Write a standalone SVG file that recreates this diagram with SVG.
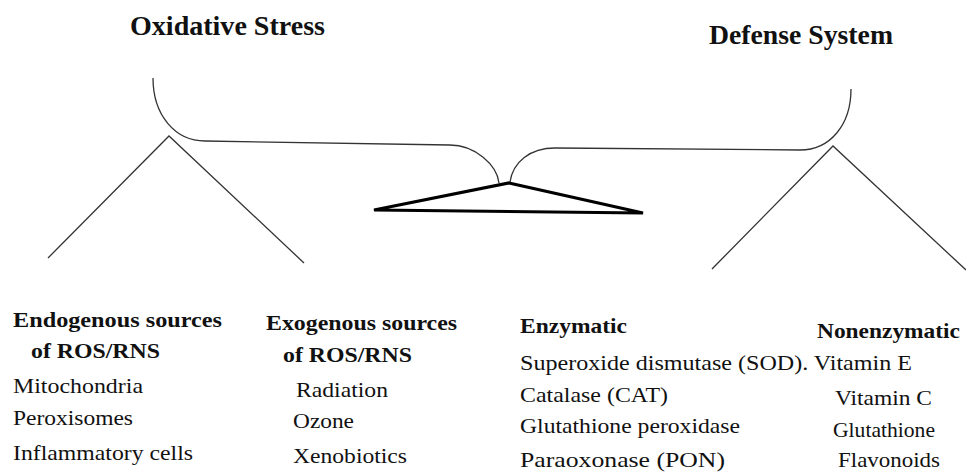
<svg xmlns="http://www.w3.org/2000/svg" width="966" height="472" viewBox="0 0 966 472">
<style>
text{fill:#111}
.title{font-size:28px;font-weight:bold}
.head{font-size:21px;font-weight:bold}
.item{font-size:22px}
.thin{fill:none;stroke:#333;stroke-width:1.3}
.fulcrum{fill:none;stroke:#000;stroke-width:3.2;stroke-linejoin:miter}
</style>
<rect width="966" height="472" fill="#fff"/>
<g font-family="Liberation Serif, DejaVu Serif, serif">
<g id="title-oxidative"><text class="title" x="130" y="35" textLength="195" lengthAdjust="spacingAndGlyphs">Oxidative Stress</text></g>
<g id="title-defense"><text class="title" x="709" y="44" textLength="184" lengthAdjust="spacingAndGlyphs">Defense System</text></g>
<g id="connectors">
<path class="thin" d="M153,78 C153,115 175,141 205,141 L450,145 C475,145 497,165 499,183"/>
<path class="thin" d="M510,182 C513,162 530,148 555,148 L800,150 C830,150 851,125 851,89"/>
<path class="thin" d="M48,258 L169,136 L304,263"/>
<path class="thin" d="M712,269 L833,146 L966,270"/>
</g>
<g id="fulcrum"><path class="fulcrum" d="M509,183 L643,213 L374,210 Z"/></g>
<g id="endogenous">
<text class="head" x="13" y="327" textLength="209" lengthAdjust="spacingAndGlyphs">Endogenous sources</text>
<text class="head" x="31" y="358" textLength="129" lengthAdjust="spacingAndGlyphs">of ROS/RNS</text>
<text class="item" x="13" y="393" textLength="130" lengthAdjust="spacingAndGlyphs">Mitochondria</text>
<text class="item" x="13" y="425" textLength="120" lengthAdjust="spacingAndGlyphs">Peroxisomes</text>
<text class="item" x="13" y="460" textLength="180" lengthAdjust="spacingAndGlyphs">Inflammatory cells</text>
</g>
<g id="exogenous">
<text class="head" x="266" y="330" textLength="191" lengthAdjust="spacingAndGlyphs">Exogenous sources</text>
<text class="head" x="283" y="362" textLength="129" lengthAdjust="spacingAndGlyphs">of ROS/RNS</text>
<text class="item" x="296" y="397" textLength="92" lengthAdjust="spacingAndGlyphs">Radiation</text>
<text class="item" x="293" y="428" textLength="61" lengthAdjust="spacingAndGlyphs">Ozone</text>
<text class="item" x="293" y="463" textLength="114" lengthAdjust="spacingAndGlyphs">Xenobiotics</text>
</g>
<g id="enzymatic">
<text class="head" x="520" y="333" textLength="107" lengthAdjust="spacingAndGlyphs">Enzymatic</text>
<text class="item" x="520" y="370" textLength="392" lengthAdjust="spacingAndGlyphs">Superoxide dismutase (SOD). Vitamin E</text>
<text class="item" x="520" y="402" textLength="148" lengthAdjust="spacingAndGlyphs">Catalase (CAT)</text>
<text class="item" x="520" y="433" textLength="220" lengthAdjust="spacingAndGlyphs">Glutathione peroxidase</text>
<text class="item" x="520" y="467" textLength="205" lengthAdjust="spacingAndGlyphs">Paraoxonase (PON)</text>
</g>
<g id="nonenzymatic">
<text class="head" x="817" y="338" textLength="143" lengthAdjust="spacingAndGlyphs">Nonenzymatic</text>
<text class="item" x="835" y="405" textLength="97" lengthAdjust="spacingAndGlyphs">Vitamin C</text>
<text class="item" x="833" y="437" textLength="102" lengthAdjust="spacingAndGlyphs">Glutathione</text>
<text class="item" x="838" y="467" textLength="102" lengthAdjust="spacingAndGlyphs">Flavonoids</text>
</g>
</g>
</svg>
